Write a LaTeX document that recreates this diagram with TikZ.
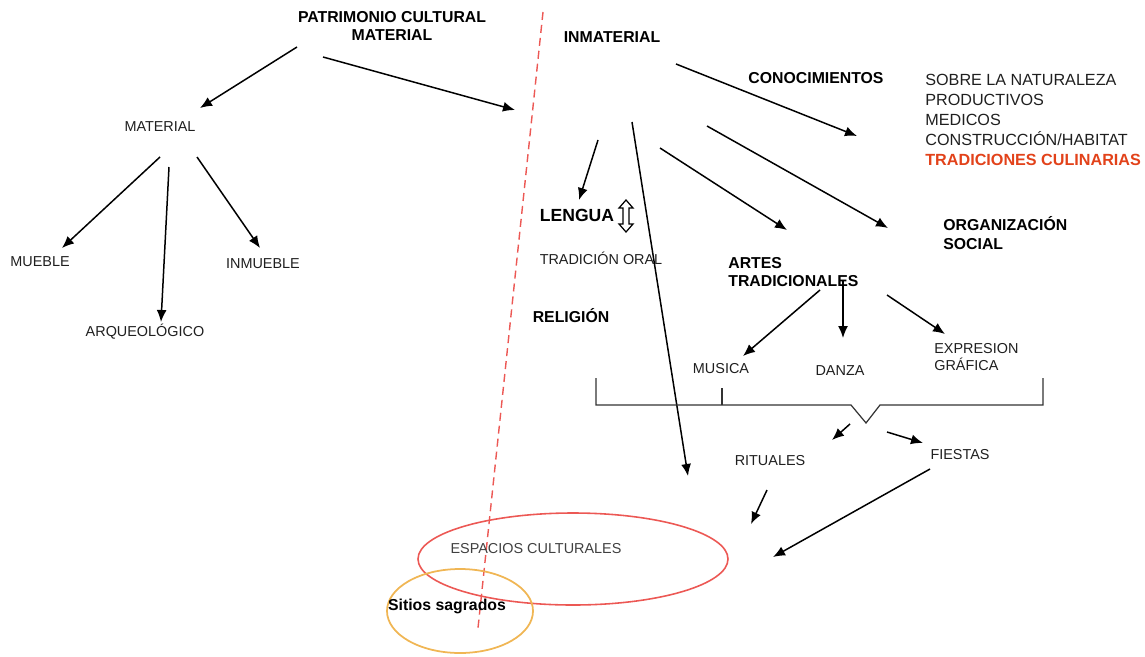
\documentclass[tikz,border=0pt]{standalone}
\usepackage{fontspec}
\setmainfont{Liberation Sans}
\usepackage{tikz}
\usetikzlibrary{arrows.meta}
\definecolor{rojo}{RGB}{236,88,84}
\definecolor{naranja}{RGB}{240,182,84}
\definecolor{culinario}{RGB}{226,66,26}

\begin{document}
\begin{tikzpicture}[x=0.2mm,y=-0.2mm,
    flecha/.style={-{Latex[length=2.4mm,width=2mm]},line width=0.85pt},
    txt/.style={inner sep=0pt,text=black!88,font=\fontsize{8.2}{9.8}\selectfont},
    tit/.style={inner sep=0pt,font=\bfseries\fontsize{9}{10.6}\selectfont}]
\useasboundingbox (0,0) rectangle (1145,656);

% linea divisoria
\coordinate (D1) at (543,12);
\coordinate (D2) at (478,628);
\draw[rojo,dashed,line width=0.8pt,dash pattern=on 1.6mm off 1mm] (D1) -- (D2);

% espacios
\draw[rojo,line width=0.9pt] (573,559) ellipse (31mm and 9.2mm);
\draw[naranja,line width=1pt] (460,611) ellipse (14.6mm and 8.4mm);

% textos
\node[tit,align=center] (pcm) at (392,26) {PATRIMONIO CULTURAL\\MATERIAL};
\node[txt] (mat) at (160,127) {MATERIAL};
\node[txt] (mueble) at (40,262) {MUEBLE};
\node[txt] (arqueo) at (145,332) {ARQUEOLÓGICO};
\node[txt] (inmueble) at (263,264) {INMUEBLE};

\node[tit] (inmat) at (612,37) {INMATERIAL};
\node[tit] (conoc) at (816,78) {CONOCIMIENTOS};
\node[inner sep=0pt,anchor=west,align=left,text=black!88,
      font=\fontsize{9.2}{11.4}\selectfont] (lista) at (925,120)
  {SOBRE LA NATURALEZA\\PRODUCTIVOS\\MEDICOS\\CONSTRUCCIÓN/HABITAT\\
   \textcolor{culinario}{\bfseries TRADICIONES CULINARIAS}};
\node[tit,font=\bfseries\fontsize{10}{12}\selectfont] (lengua) at (577,215) {LENGUA};
\node[txt] (oral) at (601,258) {TRADICIÓN ORAL};
\node[tit] (relig) at (571,316) {RELIGIÓN};
\node[tit,anchor=west,align=left] (organiz) at (943,233) {ORGANIZACIÓN\\SOCIAL};
\node[tit,anchor=west,align=left] (artes) at (728,272) {ARTES\\TRADICIONALES};
\node[txt] (musica) at (721,369) {MUSICA};
\node[txt] (danza) at (840,371) {DANZA};
\node[txt,anchor=west,align=left] (expre) at (934,357) {EXPRESION\\GRÁFICA};
\node[txt] (ritual) at (770,461) {RITUALES};
\node[txt] (fiesta) at (960,455) {FIESTAS};
\node[txt,text=black!75] (espac) at (536,549) {ESPACIOS CULTURALES};
\node[tit] (sitios) at (447,606) {Sitios sagrados};

% flechas material
\coordinate (p1) at (297,47);  \coordinate (m0) at (200,108);
\coordinate (p2) at (323,57);  \coordinate (i0) at (515,110);
\coordinate (m1) at (160,157); \coordinate (mu) at (62,248);
\coordinate (m2) at (169,167); \coordinate (ar) at (161,322);
\coordinate (m3) at (197,157); \coordinate (in) at (260,248);
\draw[flecha] (p1) -- (m0);
\draw[flecha] (p2) -- (i0);
\draw[flecha] (m1) -- (mu);
\draw[flecha] (m2) -- (ar);
\draw[flecha] (m3) -- (in);

% flechas inmaterial
\coordinate (n1) at (676,64);  \coordinate (co) at (857,136);
\coordinate (n2) at (598,140); \coordinate (le) at (579,200);
\coordinate (n3) at (632,122); \coordinate (es) at (688,476);
\coordinate (n4) at (660,148); \coordinate (at) at (787,230);
\coordinate (n5) at (707,126); \coordinate (or) at (888,228);
\draw[flecha] (n1) -- (co);
\draw[flecha] (n2) -- (le);
\draw[flecha] (n3) -- (es);
\draw[flecha] (n4) -- (at);
\draw[flecha] (n5) -- (or);

% lengua - tradicion oral
\draw[line width=0.7pt] (626,200) -- (633,208) -- (629,208) -- (629,224) -- (633,224)
  -- (626,232) -- (619,224) -- (623,224) -- (623,208) -- (619,208) -- cycle;

% artes tradicionales
\coordinate (a1) at (820,290); \coordinate (mc) at (743,356);
\coordinate (a2) at (843,280); \coordinate (dz) at (843,338);
\coordinate (a3) at (887,295); \coordinate (ex) at (945,334);
\draw[flecha] (a1) -- (mc);
\draw[flecha] (a2) -- (dz);
\draw[flecha] (a3) -- (ex);

% llave
\draw[line width=0.7pt,black!80] (596,378) -- (596,405) -- (851,405) -- (866,423)
  -- (880,405) -- (1043,405) -- (1043,378);
\draw[line width=0.7pt,black!80] (722,405) -- (722,388);

\coordinate (b1) at (850,424); \coordinate (ri) at (832,440);
\coordinate (b2) at (887,432); \coordinate (fi) at (923,443);
\draw[flecha] (b1) -- (ri);
\draw[flecha] (b2) -- (fi);

% hacia espacios culturales
\coordinate (r1) at (767,490); \coordinate (e1) at (751,524);
\coordinate (f1) at (930,469); \coordinate (e2) at (773,557);
\draw[flecha] (r1) -- (e1);
\draw[flecha] (f1) -- (e2);
\end{tikzpicture}
\end{document}
